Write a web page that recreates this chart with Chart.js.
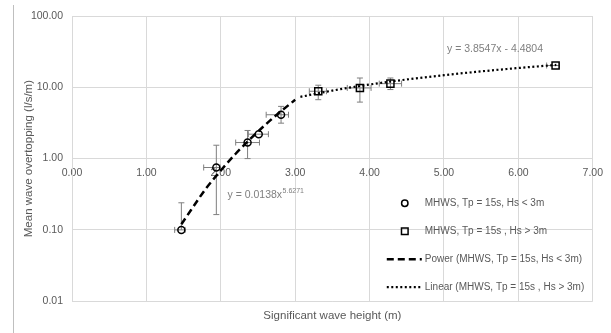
<!DOCTYPE html>
<html>
<head>
<meta charset="utf-8">
<script src="https://cdn.jsdelivr.net/npm/chart.js@4.4.1/dist/chart.umd.min.js"></script>
<style>
  html, body { margin: 0; padding: 0; background: #fff; }
</style>
</head>
<body>
<canvas id="chart" width="611" height="333"></canvas>
<script>
// Hs < 3m series (circles) with error bounds
const lowHs = [1.47, 1.94, 2.36, 2.51, 2.81];
const lowQ = [0.10, 0.75, 1.68, 2.2, 4.12];
const lowQHi = [0.24, 1.54, 2.48, null, 5.4];
const lowQLo = [null, 0.164, 1.0, null, 3.14];
const lowHsLo = [1.38, 1.77, 2.20, 2.37, 2.61];
const lowHsHi = [1.52, 1.99, 2.52, 2.64, 2.91];

// Hs > 3m series (squares) with error bounds
const highHs = [3.31, 3.87, 4.28, 6.50];
const highQ = [8.8, 9.8, 11.25, 20.2];
const highQHi = [10.7, 13.5, 13.5, null];
const highQLo = [6.7, 6.2, 9.3, null];
const highHsLo = [3.19, 3.70, 4.13, 6.38];
const highHsHi = [3.42, 4.02, 4.43, 6.55];

// trendlines
const powerHs = [1.47, 1.6, 1.8, 2.0, 2.2, 2.4, 2.6, 2.8, 3.0];
const powerQ = [0.12, 0.19, 0.38, 0.68, 1.17, 1.9, 2.99, 4.53, 6.67];
const linHs = [3.07, 3.5, 4.0, 4.5, 5.0, 5.5, 6.0, 6.51];
const linQ = [7.35, 9.0, 10.94, 12.87, 14.8, 16.72, 18.65, 20.6];

const xTicks = [0, 1, 2, 3, 4, 5, 6, 7];
const yTicks = [0.01, 0.1, 1, 10, 100];

const seriesLabels = [
  "MHWS, Tp = 15s, Hs < 3m",
  "MHWS, Tp = 15s , Hs > 3m",
  "Power (MHWS, Tp = 15s, Hs < 3m)",
  "Linear (MHWS, Tp = 15s , Hs > 3m)",
];
const powerEq = { text: "y = 0.0138x", sup: "5.6271", x: 2.09, y: 0.31 };
const linEq = { text: "y = 3.8547x - 4.4804", x: 5.04, y: 34 };

const GRID = "#d9d9d9";
const TEXT = "#595959";
const FONT = "'Liberation Sans', Arial, sans-serif";

Chart.defaults.font.family = FONT;
Chart.defaults.font.size = 10.5;
Chart.defaults.color = TEXT;

const toPts = (xs, ys) => xs.map((x, i) => ({ x: x, y: ys[i] }));

// draw error bars, equations, legend and the frame line
const extras = {
  id: "extras",
  beforeDatasetsDraw(chart) {
    const ctx = chart.ctx;
    const xs = chart.scales.x;
    const ys = chart.scales.y;
    ctx.save();
    ctx.strokeStyle = "#7f7f7f";
    ctx.lineWidth = 1;
    const cap = 3;
    const bars = (hs, q, qHi, qLo, hLo, hHi) => {
      hs.forEach((h, i) => {
        const px = xs.getPixelForValue(h);
        const py = ys.getPixelForValue(q[i]);
        ctx.beginPath();
        if (qHi[i] != null) {
          const t = ys.getPixelForValue(qHi[i]);
          ctx.moveTo(px, py); ctx.lineTo(px, t);
          ctx.moveTo(px - cap, t); ctx.lineTo(px + cap, t);
        }
        if (qLo[i] != null) {
          const b = ys.getPixelForValue(qLo[i]);
          ctx.moveTo(px, py); ctx.lineTo(px, b);
          ctx.moveTo(px - cap, b); ctx.lineTo(px + cap, b);
        }
        const l = xs.getPixelForValue(hLo[i]);
        const r = xs.getPixelForValue(hHi[i]);
        ctx.moveTo(l, py); ctx.lineTo(r, py);
        ctx.moveTo(l, py - cap); ctx.lineTo(l, py + cap);
        ctx.moveTo(r, py - cap); ctx.lineTo(r, py + cap);
        ctx.stroke();
      });
    };
    bars(lowHs, lowQ, lowQHi, lowQLo, lowHsLo, lowHsHi);
    bars(highHs, highQ, highQHi, highQLo, highHsLo, highHsHi);
    ctx.restore();
  },
  afterDraw(chart) {
    const ctx = chart.ctx;
    const xs = chart.scales.x;
    const ys = chart.scales.y;
    const area = chart.chartArea;
    ctx.save();

    // frame line on the left
    ctx.strokeStyle = "#bfbfbf";
    ctx.lineWidth = 1;
    ctx.beginPath();
    ctx.moveTo(13.5, 5);
    ctx.lineTo(13.5, 333);
    ctx.stroke();

    // trendline equations
    ctx.fillStyle = "#7f7f7f";
    ctx.textBaseline = "middle";
    ctx.textAlign = "left";
    ctx.font = "10.5px " + FONT;
    let px = xs.getPixelForValue(powerEq.x);
    let py = ys.getPixelForValue(powerEq.y);
    ctx.fillText(powerEq.text, px, py);
    const w = ctx.measureText(powerEq.text).width;
    ctx.font = "7px " + FONT;
    ctx.fillText(powerEq.sup, px + w + 0.5, py - 4);
    ctx.font = "10.5px " + FONT;
    ctx.fillText(linEq.text, xs.getPixelForValue(linEq.x), ys.getPixelForValue(linEq.y));

    // legend
    const ds = chart.data.datasets;
    const mx = area.right - 188;
    const tx = area.right - 168;
    const rows = [98, 70, 42, 14].map((d) => area.bottom - d);
    ctx.font = "10px " + FONT;
    ctx.fillStyle = TEXT;
    ctx.strokeStyle = "#000";
    rows.forEach((ry, i) => {
      const d = ds[i];
      ctx.lineWidth = i < 2 ? 1.5 : d.borderWidth;
      ctx.setLineDash(i < 2 ? [] : d.borderDash);
      ctx.beginPath();
      if (i === 0) {
        ctx.arc(mx, ry, 3.2, 0, Math.PI * 2);
      } else if (i === 1) {
        ctx.rect(mx - 3.3, ry - 3.3, 6.6, 6.6);
      } else {
        ctx.moveTo(mx - 18, ry);
        ctx.lineTo(mx + 17, ry);
      }
      ctx.stroke();
      ctx.fillText(d.label, tx, ry);
    });
    ctx.restore();
  },
};

new Chart(document.getElementById("chart"), {
  type: "scatter",
  data: {
    datasets: [
      {
        label: seriesLabels[0],
        data: toPts(lowHs, lowQ),
        pointStyle: "circle",
        pointRadius: 3.5,
        borderColor: "#000",
        borderWidth: 1.5,
        backgroundColor: "rgba(0,0,0,0)",
        showLine: false,
        order: 2,
      },
      {
        label: seriesLabels[1],
        data: toPts(highHs, highQ),
        pointStyle: "rect",
        pointRadius: 5,
        borderColor: "#000",
        borderWidth: 1.5,
        backgroundColor: "rgba(0,0,0,0)",
        showLine: false,
        order: 2,
      },
      {
        label: seriesLabels[2],
        data: toPts(powerHs, powerQ),
        showLine: true,
        borderColor: "#000",
        borderWidth: 2.5,
        borderDash: [7, 4],
        pointRadius: 0,
        cubicInterpolationMode: "monotone",
        order: 1,
      },
      {
        label: seriesLabels[3],
        data: toPts(linHs, linQ),
        showLine: true,
        borderColor: "#000",
        borderWidth: 2.2,
        borderDash: [2, 2.5],
        pointRadius: 0,
        cubicInterpolationMode: "monotone",
        order: 1,
      },
    ],
  },
  options: {
    responsive: false,
    animation: false,
    layout: { padding: { top: 16, right: 17, bottom: 10, left: 0 } },
    plugins: {
      legend: { display: false },
      tooltip: { enabled: false },
    },
    scales: {
      x: {
        type: "linear",
        position: { y: 1 },
        min: 0,
        max: 7,
        afterBuildTicks: (s) => { s.ticks = xTicks.map((v) => ({ value: v })); },
        ticks: { padding: 8, callback: (v) => Number(v).toFixed(2) },
        grid: { color: GRID, drawTicks: false },
        border: { color: GRID },
      },
      xTitle: {
        type: "linear",
        position: "bottom",
        ticks: { display: false },
        grid: { display: false },
        border: { display: false },
        title: {
          display: true,
          text: "Significant wave height (m)",
          font: { size: 11.5 },
          padding: { top: 0, bottom: 0 },
        },
      },
      y: {
        type: "logarithmic",
        min: 0.01,
        max: 100,
        afterBuildTicks: (s) => { s.ticks = yTicks.map((v) => ({ value: v })); },
        afterFit: (s) => { s.width = 72; },
        ticks: { padding: 9, callback: (v) => Number(v).toFixed(2) },
        grid: { color: GRID, drawTicks: false },
        border: { color: GRID },
        title: {
          display: true,
          text: "Mean wave overtopping (l/s/m)",
          font: { size: 11.5 },
          padding: { top: 22, bottom: 0 },
        },
      },
    },
  },
  plugins: [extras],
});
</script>
</body>
</html>
